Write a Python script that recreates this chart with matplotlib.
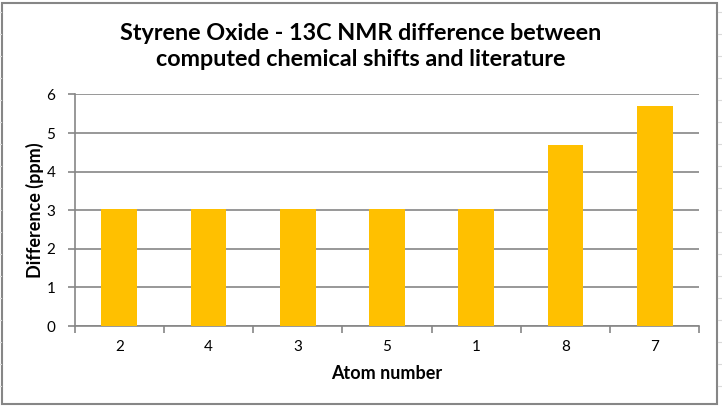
import matplotlib
matplotlib.use("Agg")
import matplotlib.pyplot as plt
from matplotlib.lines import Line2D
from matplotlib.patches import Rectangle

# data
atoms = ["2", "4", "3", "5", "1", "8", "7"]
diff_ppm = [3.03, 3.03, 3.03, 3.03, 3.03, 4.69, 5.70]
yticks = [0, 1, 2, 3, 4, 5, 6]

plt.rcParams['font.family'] = ['Lato', 'DejaVu Sans']

fig = plt.figure(figsize=(7.22, 4.07), dpi=100)
ax = fig.add_axes([0.1035, 0.199, 0.8651, 0.569])

x = range(len(atoms))
ax.bar(x, diff_ppm, width=0.4, color="#FFC000", zorder=3)

ax.set_xlim(-0.5, len(atoms) - 0.5)
ax.set_ylim(0, 6)
ax.set_yticks(yticks)
ax.set_xticks(x)
ax.set_xticklabels(atoms)
ax.yaxis.grid(True, color="#868686", linewidth=1.2, zorder=0)

# category separators as ticks between bars
ax.set_xticks([i - 0.5 for i in range(len(atoms) + 1)], minor=True)
ax.tick_params(axis='x', which='major', length=0, labelsize=11, pad=10, colors="black")
ax.tick_params(axis='x', which='minor', length=5, color="#868686", width=1.2)
ax.tick_params(axis='y', length=5, color="#868686", width=1.2, labelsize=11, pad=9)

for s in ["top", "right"]:
    ax.spines[s].set_visible(False)
for s in ["left", "bottom"]:
    ax.spines[s].set_color("#868686")
    ax.spines[s].set_linewidth(1.2)

ax.set_xlabel("Atom number", fontsize=13, fontweight="bold", labelpad=8)
ax.set_ylabel("Difference (ppm)", fontsize=13, fontweight="bold", labelpad=2)

fig.text(0.5, 0.885, "Styrene Oxide - 13C NMR difference between\ncomputed chemical shifts and literature",
         ha="center", va="center", fontsize=16.8, fontweight="bold", linespacing=1.3)

# chart border like excel
fig.patches.append(Rectangle((2 / 722, 3 / 407), 715 / 722, 401 / 407, transform=fig.transFigure,
                             fill=False, edgecolor="#868686", linewidth=1.5))
# faint sheet gridlines outside the chart
for yy in range(12, 407, 22):
    fig.lines.append(Line2D([718 / 722, 1.0], [1 - yy / 407] * 2, transform=fig.transFigure,
                            color="#DADADA", linewidth=0.8))
    fig.lines.append(Line2D([0, 1 / 722], [1 - yy / 407] * 2, transform=fig.transFigure,
                            color="#DADADA", linewidth=0.8))

fig.savefig("out.png", dpi=100, facecolor="white")
